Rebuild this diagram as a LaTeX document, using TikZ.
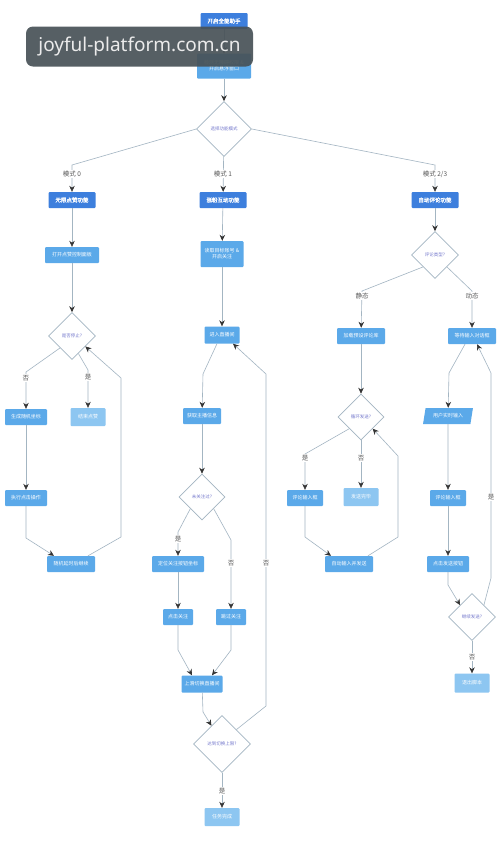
\documentclass[tikz,border=0pt]{standalone}
\usepackage{fontspec}
\setmainfont{Noto Sans CJK SC}
\newfontfamily\cjkbf[FakeBold=1.5]{Noto Sans CJK SC}
\newfontfamily\wmfont{Noto Sans}
\usepackage{tikz}
\usetikzlibrary{calc,arrows.meta,shapes.geometric}
\usetikzlibrary{positioning}

\definecolor{darkblue}{HTML}{3D7FDD}
\definecolor{midblue}{HTML}{5BA9E9}
\definecolor{paleblue}{HTML}{8DC6F1}
\definecolor{linegray}{HTML}{A3B5C2}
\definecolor{dtext}{HTML}{7478CC}
\definecolor{wmgray}{HTML}{485257}

\begin{document}
\begin{tikzpicture}[x=1pt,y=-1pt,
    box/.style={fill=midblue,text=white,rounded corners=1pt,inner sep=0pt,minimum height=16pt,align=center,font=\fontsize{5}{6}\selectfont},
    dbox/.style={box,fill=darkblue,font=\cjkbf\fontsize{5.5}{6.5}\selectfont},
    pbox/.style={box,fill=paleblue,minimum height=18pt},
    dec/.style={diamond,aspect=1,draw=linegray,line width=0.6pt,fill=white,inner sep=0pt,text=dtext,font=\fontsize{4.5}{5}\selectfont},
    link/.style={draw=linegray,line width=0.6pt,-{Stealth[length=6pt,width=5.5pt,color=black!80]}},
    lab/.style={fill=white,text=black!65,inner sep=1pt,font=\fontsize{6.5}{7}\selectfont}]
			\fill[white] (0,0) rectangle (500,849);
			\useasboundingbox (0,0) rectangle (500,849);
			
			% top
			\node[dbox,minimum width=47pt] (start) at (224,21) {开启全能助手};
			\node[box,minimum width=54pt,minimum height=25pt] (prep) at (224,66) {检测无障碍权限 \&\\开启悬浮窗口};
			\node[dec,minimum size=55pt] (mode) at (224,129) {选择功能模式};
			
			% mode 0
			\node[dbox,minimum width=47pt] (zan) at (72,200) {无限点赞功能};
			\node[box,minimum width=54pt] (panel) at (72,255) {打开点赞控制面板};
			\node[dec,minimum size=47pt] (stop) at (72,336) {是否停止?};
			\node[box,minimum width=42pt] (rand) at (26,417) {生成随机坐标};
			\node[pbox,minimum width=35pt] (zanend) at (88,417) {结束点赞};
			\node[box,minimum width=42pt] (click) at (26,498) {执行点击操作};
			\node[box,minimum width=48pt] (delay) at (71,564) {随机延时后继续};
			
			% mode 1
			\node[dbox,minimum width=47pt] (fans) at (223,200) {涨粉互动功能};
			\node[box,minimum width=43pt,minimum height=26pt] (read) at (222,254) {读取目标账号 \&\\开启关注};
			\node[box,minimum width=35pt,minimum height=17pt] (room) at (222,335) {进入直播间};
			\node[box,minimum width=38pt] (info) at (202,416) {获取主播信息};
			\node[dec,minimum size=46pt] (chk) at (202,497) {未关注过?};
			\node[box,minimum width=52pt] (locate) at (178,564) {定位关注按钮坐标};
			\node[box,minimum width=30pt] (follow) at (178,617) {点击关注};
			\node[box,minimum width=30pt] (skip) at (231,617) {跳过关注};
			\node[box,minimum width=41pt,minimum height=17pt] (swipe) at (202,684) {上滑切换直播间};
			\node[dec,minimum size=57pt] (limit) at (222,744) {达到切换上限?};
			\node[pbox,minimum width=35pt] (done) at (222,817) {任务完成};
			
			% mode 2/3
			\node[dbox,minimum width=47pt] (auto) at (435,200) {自动评论功能};
			\node[dec,minimum size=47pt] (ctype) at (435,255) {评论类型?};
			\node[box,minimum width=48pt] (load) at (361,336) {加载预设评论库};
			\node[dec,minimum size=46pt] (loop) at (361,417) {循环发送?};
			\node[box,minimum width=36pt] (input1) at (305,498) {评论输入框};
			\node[pbox,minimum width=35pt] (sent) at (361,497) {发送完毕};
			\node[box,minimum width=48pt] (autosend) at (349,564) {自动输入并发送};
			\node[box,minimum width=48pt] (wait) at (472,336) {等待输入对话框};
			\node[box,trapezium,trapezium left angle=70,trapezium right angle=110,trapezium stretches=true,rounded corners=0pt,minimum width=50pt] (user) at (448,416) {用户实时输入};
			\node[box,minimum width=36pt] (input2) at (448,498) {评论输入框};
			\node[box,minimum width=42pt] (press) at (448,564) {点击发送按钮};
			\node[dec,minimum size=47pt] (again) at (472,617) {继续发送?};
			\node[pbox,minimum width=35pt,minimum height=19pt] (quit) at (472,683) {退出脚本};
			
			% bends
			\coordinate (k0) at (72,165);
			\coordinate (k1) at (435,165);
			\coordinate (k2) at (26,372);
			\coordinate (k3) at (88,370);
			\coordinate (k4) at (26,538);
			\coordinate (k5) at (121,537);
			\coordinate (k6) at (121,378);
			\coordinate (k7) at (203,374);
			\coordinate (k8) at (178,532);
			\coordinate (k9) at (231,540);
			\coordinate (k10) at (178,650);
			\coordinate (k11) at (231,650);
			\coordinate (k12) at (203,712);
			\coordinate (k13) at (266,706);
			\coordinate (k14) at (266,374);
			\coordinate (k15) at (362,291);
			\coordinate (k16) at (472,291);
			\coordinate (k17) at (305,454);
			\coordinate (k18) at (305,537);
			\coordinate (k19) at (398,537);
			\coordinate (k20) at (398,456);
			\coordinate (k21) at (449,373);
			\coordinate (k22) at (448,585);
			\coordinate (k23) at (491,578);
			\coordinate (k24) at (491,373);
			
			\draw[link] (start) -- (prep);
			\draw[link] (prep) -- (mode);
			\draw[link] (mode.west) -- (k0) -- (zan);
			\draw[link] (mode) -- (fans);
			\draw[link] (mode.east) -- (k1) -- (auto);
			
			\draw[link] (zan) -- (panel);
			\draw[link] (panel) -- (stop);
			\draw[link] (stop.south west) -- (k2) -- (rand);
			\draw[link] (stop.-70) -- (k3) -- (zanend);
			\draw[link] (rand) -- (click);
			\draw[link] (click) -- (k4) -- ([xshift=-17pt]delay.north);
			\draw[link] ([xshift=17pt]delay.north) -- (k5) -- (k6) -- (stop.-38);
			
			\draw[link] (fans) -- (read);
			\draw[link] (read) -- (room);
			\draw[link] ([xshift=-5pt]room.south) -- (k7) -- (info);
			\draw[link] (info) -- (chk);
			\draw[link] (chk.south west) -- (k8) -- (locate);
			\draw[link] (chk.south east) -- (k9) -- (skip);
			\draw[link] (locate) -- (follow);
			\draw[link] (follow) -- (k10) -- ([xshift=-10pt]swipe.north);
			\draw[link] (skip) -- (k11) -- ([xshift=10pt]swipe.north);
			\draw[link] (swipe) -- (k12) -- (limit.120);
			\draw[link] (limit) -- (done);
			\draw[link] (limit.north east) -- (k13) -- (k14) -- ([xshift=11pt]room.south);
			
			\draw[link] (auto) -- (ctype);
			\draw[link] (ctype.south west) -- (k15) -- (load);
			\draw[link] (ctype.south east) -- (k16) -- (wait);
			\draw[link] (load) -- (loop);
			\draw[link] (loop.south west) -- (k17) -- (input1);
			\draw[link] (loop) -- (sent);
			\draw[link] (input1) -- (k18) -- ([xshift=-18pt]autosend.north);
			\draw[link] ([xshift=19pt]autosend.north) -- (k19) -- (k20) -- (loop.south east);
			\draw[link] ([xshift=-7pt]wait.south) -- (k21) -- (user);
			\draw[link] (user) -- (input2);
			\draw[link] (input2) -- (press);
			\draw[link] (press) -- (k22) -- (again.north west);
			\draw[link] (again) -- (quit);
			\draw[link] (again.north east) -- (k23) -- (k24) -- ([xshift=5pt]wait.south);
			
			% edge labels
			\node[lab] (l0) at (72,174) {模式 0};
			\node[lab] (l1) at (223,174) {模式 1};
			\node[lab] (l2) at (435,174) {模式 2/3};
			\node[lab] (l3) at (26,378) {否};
			\node[lab] (l4) at (88,377) {是};
			\node[lab] (l5) at (178,539) {是};
			\node[lab] (l6) at (231,563) {否};
			\node[lab] (l7) at (266,563) {否};
			\node[lab] (l8) at (222,791) {是};
			\node[lab] (l9) at (362,296) {静态};
			\node[lab] (l10) at (472,296) {动态};
			\node[lab] (l11) at (305,458) {是};
			\node[lab] (l12) at (361,458) {否};
			\node[lab] (l13) at (491,497) {是};
			\node[lab] (l14) at (472,657) {否};
			
			\node[fill=wmgray,fill opacity=0.92,text opacity=1,text=black!8,rounded corners=7pt,minimum width=227pt,minimum height=40pt,inner sep=0pt,font=\wmfont\fontsize{19}{21}\selectfont] (wm) at (139.5,46.5) {joyful-platform.com.cn};
			
		\end{tikzpicture}
\end{document}
